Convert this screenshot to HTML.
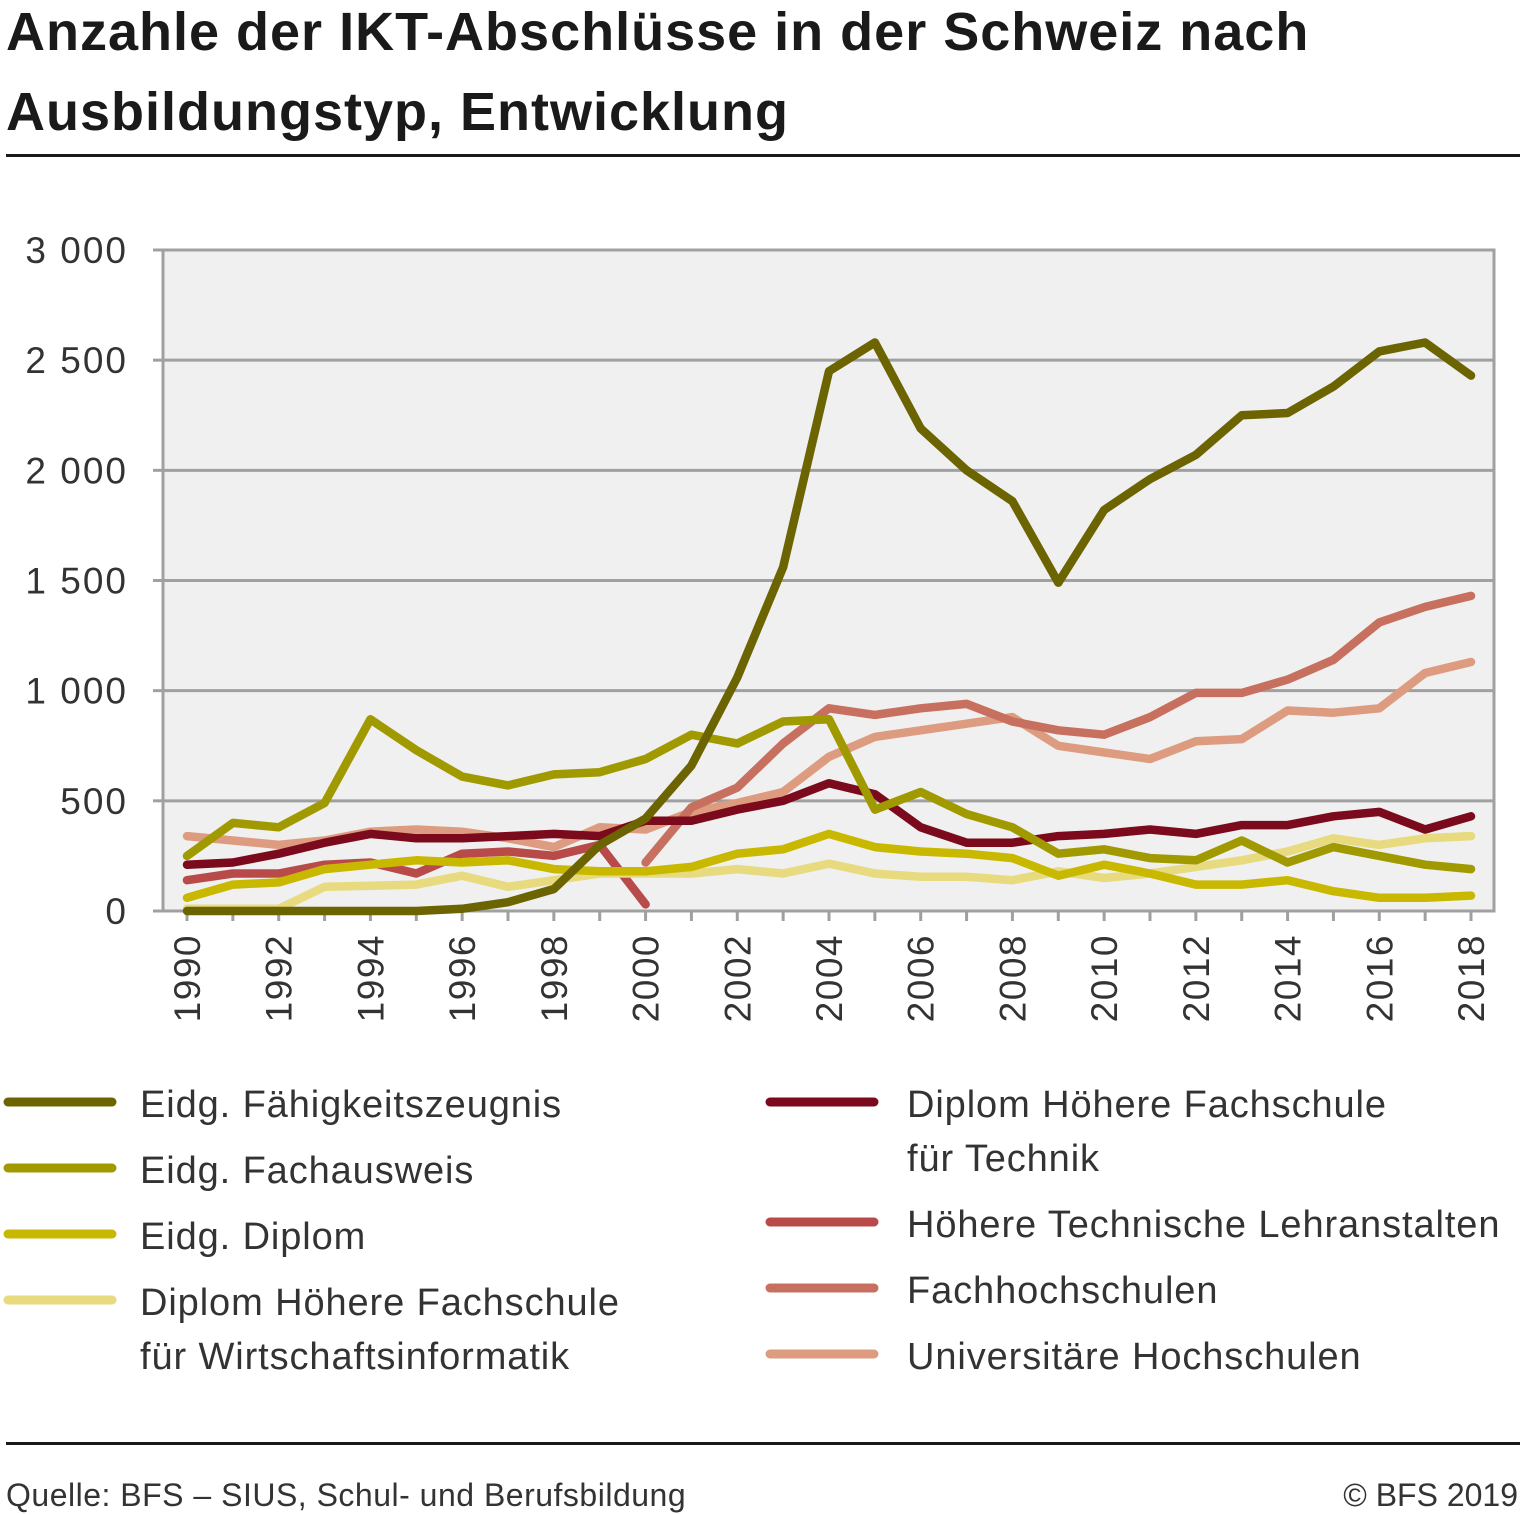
<!DOCTYPE html>
<html><head><meta charset="utf-8">
<style>
body{margin:0;background:#fff;}
svg{display:block;font-family:"Liberation Sans",sans-serif;}
</style></head>
<body>
<svg id="chart" width="1521" height="1515" viewBox="0 0 1521 1515" xmlns="http://www.w3.org/2000/svg">
<text x="6" y="50" font-size="54" font-weight="bold" fill="#1a1a1a" letter-spacing="1">Anzahle der IKT-Abschlüsse in der Schweiz nach</text>
<text x="6" y="130" font-size="54" font-weight="bold" fill="#1a1a1a" letter-spacing="1">Ausbildungstyp, Entwicklung</text>
<rect x="6" y="154" width="1514" height="3" fill="#1a1a1a"/>
<rect x="163" y="250" width="1331" height="661" fill="#f0f0f0" stroke="#a0a0a0" stroke-width="3"/>
<g id="grid"></g>
<g id="yticks"></g>
<g id="xticks"></g>
<g id="lines"></g>
<g id="legend"></g>
<rect x="6" y="1442" width="1514" height="3" fill="#1a1a1a"/>
<text x="6" y="1506" font-size="32" fill="#333" letter-spacing="0.5">Quelle: BFS – SIUS, Schul- und Berufsbildung</text>
<text x="1518" y="1506" font-size="32" fill="#333" text-anchor="end">© BFS 2019</text>
</svg>
<script>
const years=[1990,1991,1992,1993,1994,1995,1996,1997,1998,1999,2000,2001,2002,2003,2004,2005,2006,2007,2008,2009,2010,2011,2012,2013,2014,2015,2016,2017,2018];
const yTicks=[0,500,1000,1500,2000,2500,3000];
const yTickLabels=["0","500","1 000","1 500","2 000","2 500","3 000"];
const seriesNames=["Eidg. Fähigkeitszeugnis","Eidg. Fachausweis","Eidg. Diplom","Diplom Höhere Fachschule für Wirtschaftsinformatik","Diplom Höhere Fachschule für Technik","Höhere Technische Lehranstalten","Fachhochschulen","Universitäre Hochschulen"];
const seriesColors=["#6b6400","#a09a00","#c9b800","#e8da7e","#7a0a1c","#b84a4a","#c8705f","#dd9c80"];
const sEFZ=[0,0,0,0,0,0,10,40,100,300,420,660,1060,1560,2450,2580,2190,2000,1860,1490,1820,1960,2070,2250,2260,2380,2540,2580,2430];
const sFA=[250,400,380,490,870,730,610,570,620,630,690,800,760,860,870,460,540,440,380,260,280,240,230,320,220,290,250,210,190];
const sED=[60,120,130,190,210,230,220,230,190,180,180,200,260,280,350,290,270,260,240,160,210,170,120,120,140,90,60,60,70];
const sHFW=[10,10,10,110,115,120,160,110,140,170,170,170,190,170,215,170,155,155,140,180,150,170,200,230,270,330,300,330,340];
const sHFT=[210,220,260,310,350,330,330,340,350,340,410,410,460,500,580,530,380,310,310,340,350,370,350,390,390,430,450,370,430];
const sHTL=[140,170,170,210,220,170,260,270,250,300,30,null,null,null,null,null,null,null,null,null,null,null,null,null,null,null,null,null,null];
const sFH=[null,null,null,null,null,null,null,null,null,null,220,470,560,760,920,890,920,940,860,820,800,880,990,990,1050,1140,1310,1380,1430];
const sUH=[340,320,300,320,360,370,360,330,290,380,370,450,490,540,700,790,820,850,880,750,720,690,770,780,910,900,920,1080,1130];
const allSeries=[sEFZ,sFA,sED,sHFW,sHFT,sHTL,sFH,sUH];
const ns="http://www.w3.org/2000/svg";
const X=y=>187+(y-1990)*(1471-187)/28;
const Y=v=>911-v*(661/3000);
function mk(t,a,p){const e=document.createElementNS(ns,t);for(const k in a)e.setAttribute(k,a[k]);p.appendChild(e);return e;}
const grid=document.getElementById('grid'),yt=document.getElementById('yticks'),xt=document.getElementById('xticks'),lines=document.getElementById('lines'),lg=document.getElementById('legend');
yTicks.forEach((v,i)=>{
 if(v>0&&v<3000){const l=mk('line',{x1:163,x2:1494,y1:Y(v),y2:Y(v),stroke:'#a0a0a0','stroke-width':3},grid);
 
 }
 const tk=mk('line',{x1:153,x2:163,y1:Y(v),y2:Y(v),stroke:'#a0a0a0','stroke-width':3},yt);
 
 
 const t=mk('text',{x:128,y:Y(v)+13,'font-size':37,fill:'#333','text-anchor':'end','letter-spacing':2},yt);
 t.textContent=yTickLabels[i];
 
 
});
years.forEach(y=>{
 const tk=mk('line',{x1:X(y),x2:X(y),y1:911,y2:921,stroke:'#a0a0a0','stroke-width':3},xt);
 
 
 if(y%2===0){const t=mk('text',{x:0,y:0,'font-size':37,fill:'#333','text-anchor':'end','letter-spacing':1.5,transform:`translate(${X(y)+13},934) rotate(-90)`},xt);
 t.textContent=y;
 
 }
});
const order=[7,6,5,3,2,4,1,0];
order.forEach(i=>{
 const s=allSeries[i];let d='';let pen=false;
 s.forEach((v,j)=>{if(v===null){pen=false;return;}d+=(pen?'L':'M')+X(years[j]).toFixed(1)+' '+Y(v).toFixed(1)+' ';pen=true;});
 const p=mk('path',{d:d,fill:'none',stroke:seriesColors[i],'stroke-width':8.5,'stroke-linejoin':'round','stroke-linecap':'round'},lines);
 
 
});
const legPos=[[8,1102,["Eidg. Fähigkeitszeugnis"]],[8,1168,["Eidg. Fachausweis"]],[8,1234,["Eidg. Diplom"]],[8,1300,["Diplom Höhere Fachschule","für Wirtschaftsinformatik"]],[770,1102,["Diplom Höhere Fachschule","für Technik"]],[770,1222,["Höhere Technische Lehranstalten"]],[770,1288,["Fachhochschulen"]],[770,1354,["Universitäre Hochschulen"]]];
legPos.forEach((L,i)=>{
 const g=mk('g',{},lg);
 
 
 mk('line',{x1:L[0],x2:L[0]+104,y1:L[1],y2:L[1],stroke:seriesColors[i],'stroke-width':9,'stroke-linecap':'round'},g);
 L[2].forEach((s,k)=>{const t=mk('text',{x:L[0]+132+(i<4?0:5),y:L[1]+15+k*54,'font-size':38,fill:'#333','letter-spacing':0.9},g);t.textContent=s;});
});
</script>
</body></html>
